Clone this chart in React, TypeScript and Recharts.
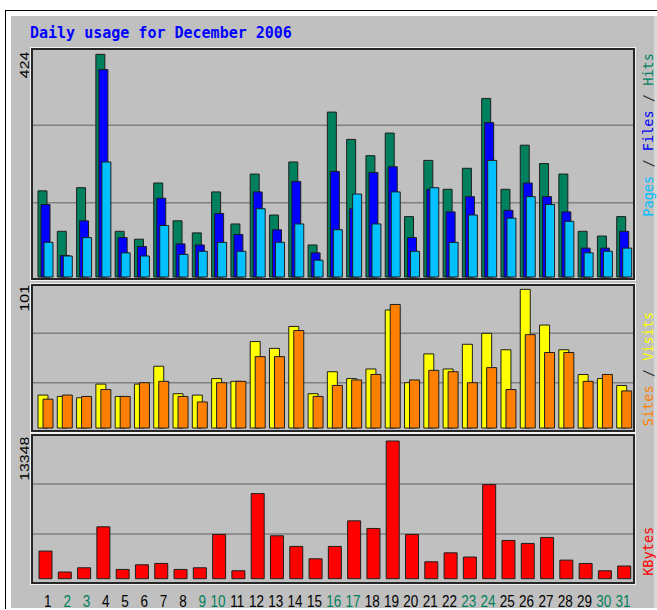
import { Bar, BarChart, CartesianGrid, XAxis, YAxis } from 'recharts';

const DAYS = [1, 2, 3, 4, 5, 6, 7, 8, 9, 10, 11, 12, 13, 14, 15, 16, 17, 18, 19, 20, 21, 22, 23, 24, 25, 26, 27, 28, 29, 30, 31];
const WEEKEND_DAYS = [2, 3, 9, 10, 16, 17, 23, 24, 30, 31];

const HITS = [164, 87, 170, 424, 87, 72, 179, 107, 84, 162, 101, 196, 118, 219, 61, 314, 262, 231, 274, 115, 222, 167, 207, 340, 167, 251, 216, 196, 87, 78, 115];
const FILES = [138, 41, 107, 395, 75, 58, 150, 63, 61, 121, 81, 162, 90, 182, 46, 201, 130, 199, 210, 75, 167, 124, 153, 294, 127, 179, 153, 124, 55, 55, 87];
const PAGES = [66, 40, 75, 219, 46, 40, 98, 43, 49, 66, 49, 130, 66, 101, 32, 90, 158, 101, 162, 49, 170, 66, 118, 222, 112, 153, 138, 106, 46, 49, 55];

const VISITS = [24, 23, 22, 32, 23, 32, 45, 25, 24, 36, 34, 63, 58, 74, 25, 41, 36, 43, 86, 33, 54, 43, 61, 69, 57, 101, 75, 57, 39, 36, 31];
const SITES = [21, 24, 23, 28, 23, 33, 34, 23, 19, 33, 34, 52, 52, 71, 23, 31, 35, 39, 90, 35, 42, 41, 33, 44, 28, 68, 55, 55, 34, 39, 27];

const KBYTES = [2680, 650, 1060, 5030, 900, 1350, 1480, 900, 1060, 4290, 770, 8250, 4160, 3130, 1930, 3130, 5610, 4870, 13348, 4290, 1640, 2510, 2100, 9120, 3710, 3420, 4000, 1800, 1480, 770, 1230];

const MAX_LABELS = ['424', '101', '13348'];

const COLORS = {
  hits: '#00805C',
  files: '#0000FF',
  pages: '#00C0FF',
  visits: '#FFFF00',
  sites: '#FF8000',
  kbytes: '#FF0000',
  panel: '#C0C0C0',
  grid: '#808080',
  outline: '#1e1e1e',
};

const rows = DAYS.map((day, i) => ({
  day: String(day),
  hits: HITS[i],
  files: FILES[i],
  pages: PAGES[i],
  visits: VISITS[i],
  sites: SITES[i],
  kbytes: KBYTES[i],
}));

interface PanelSpec {
  top: number;
  height: number;
  domain: [number, number];
  keys: (keyof typeof COLORS)[];
  barSize: number;
  barGap: number;
  axis?: boolean;
}

const PANELS: PanelSpec[] = [
  { top: 48, height: 232, domain: [-5.7, 436], keys: ['hits', 'files', 'pages'], barSize: 9, barGap: -6 },
  { top: 284, height: 148, domain: [-2.9, 104.9], keys: ['visits', 'sites'], barSize: 10, barGap: -5 },
  { top: 434, height: 150, domain: [-513, 14027], keys: ['kbytes'], barSize: 13, barGap: 0, axis: true },
];

const PLOT_LEFT = 31;
const PLOT_WIDTH = 604;
const AXIS_HEIGHT = 26;

function DayTick(props: any) {
  const { x, payload } = props;
  const day = Number(payload.value);
  const shift = day < 10 ? 2.2 : -1.3;
  return (
    <text
      transform={`translate(${x + shift}, 172.7) scale(1, 1.2)`}
      textAnchor="middle"
      fontSize={13.5}
      fontFamily="'Liberation Sans', Arial, sans-serif"
      fill={WEEKEND_DAYS.includes(day) ? COLORS.hits : '#000'}
    >
      {day}
    </text>
  );
}

function Panel({ spec }: { spec: PanelSpec }) {
  const [lo, hi] = spec.domain;
  const third = (hi - lo) / 3;
  const chartHeight = spec.height + (spec.axis ? AXIS_HEIGHT : 0);
  return (
    <>
      <div style={{ position: 'absolute', left: PLOT_LEFT, top: spec.top }}>
        <BarChart
          width={PLOT_WIDTH}
          height={chartHeight}
          data={rows}
          margin={{ top: 0, right: 0, bottom: 0, left: 0 }}
          barSize={spec.barSize}
          barGap={spec.barGap}
        >
          <CartesianGrid vertical={false} stroke={COLORS.grid} strokeWidth={1.5} />
          <XAxis
            dataKey="day"
            hide={!spec.axis}
            height={spec.axis ? AXIS_HEIGHT : 0}
            padding={{ left: 5, right: 1 }}
            axisLine={false}
            tickLine={false}
            interval={0}
            tick={<DayTick />}
          />
          <YAxis hide type="number" domain={spec.domain} allowDataOverflow ticks={[lo + third, lo + 2 * third]} />
          {spec.keys.map((key) => (
            <Bar
              key={key}
              dataKey={key}
              fill={COLORS[key]}
              stroke={COLORS.outline}
              strokeWidth={1}
              isAnimationActive={false}
            />
          ))}
        </BarChart>
      </div>
      <div
        style={{
          position: 'absolute',
          left: PLOT_LEFT,
          top: spec.top,
          width: PLOT_WIDTH,
          height: spec.height,
          boxSizing: 'border-box',
          border: '2px solid #262626',
          boxShadow: '0 0 0 1px #f2f2f2',
          pointerEvents: 'none',
        }}
      />
    </>
  );
}

export default function App() {
  const labelTops = [51.7, 285, 436.7];
  return (
    <div style={{ position: 'fixed', left: 0, top: 0, width: 657, height: 610, background: '#fff', overflow: 'hidden' }}>
      <div
        style={{
          position: 'absolute',
          left: 5,
          top: 10,
          width: 660,
          height: 598,
          borderLeft: '1px solid #000',
          borderTop: '1px solid #000',
        }}
      />
      <div style={{ position: 'absolute', left: 11, top: 16, width: 643, height: 592, background: COLORS.panel }} />
      <div style={{ position: 'absolute', left: 654, top: 16, width: 3, height: 592, background: '#d8d8d8' }} />

      {PANELS.map((spec, i) => (
        <Panel key={i} spec={spec} />
      ))}

      <svg width={657} height={610} style={{ position: 'absolute', left: 0, top: 0, pointerEvents: 'none' }}>
        <text x={30} y={38.3} fontFamily="'DejaVu Sans Mono', monospace" fontWeight="bold" fontSize={15} fill="#0000FF">
          Daily usage for December 2006
        </text>
        {MAX_LABELS.map((label, i) => (
          <text
            key={label}
            transform={`translate(29.3, ${labelTops[i]}) rotate(-90) scale(1.22, 1)`}
            textAnchor="end"
            fontFamily="'Liberation Sans', Arial, sans-serif"
            fontSize={13}
            fill="#000"
          >
            {label}
          </text>
        ))}
        <g fontFamily="'DejaVu Sans Mono', monospace" fontSize={13.6}>
          <text transform="translate(653, 53) rotate(-90)" textAnchor="end">
            <tspan fill={COLORS.pages}>Pages</tspan>
            <tspan fill="#333"> / </tspan>
            <tspan fill={COLORS.files}>Files</tspan>
            <tspan fill="#333"> / </tspan>
            <tspan fill={COLORS.hits}>Hits</tspan>
          </text>
          <text transform="translate(653, 311.7) rotate(-90)" textAnchor="end">
            <tspan fill={COLORS.sites}>Sites</tspan>
            <tspan fill="#333"> / </tspan>
            <tspan fill={COLORS.visits}>Visits</tspan>
          </text>
          <text transform="translate(653, 526.7) rotate(-90)" textAnchor="end">
            <tspan fill={COLORS.kbytes}>KBytes</tspan>
          </text>
        </g>
      </svg>
    </div>
  );
}
